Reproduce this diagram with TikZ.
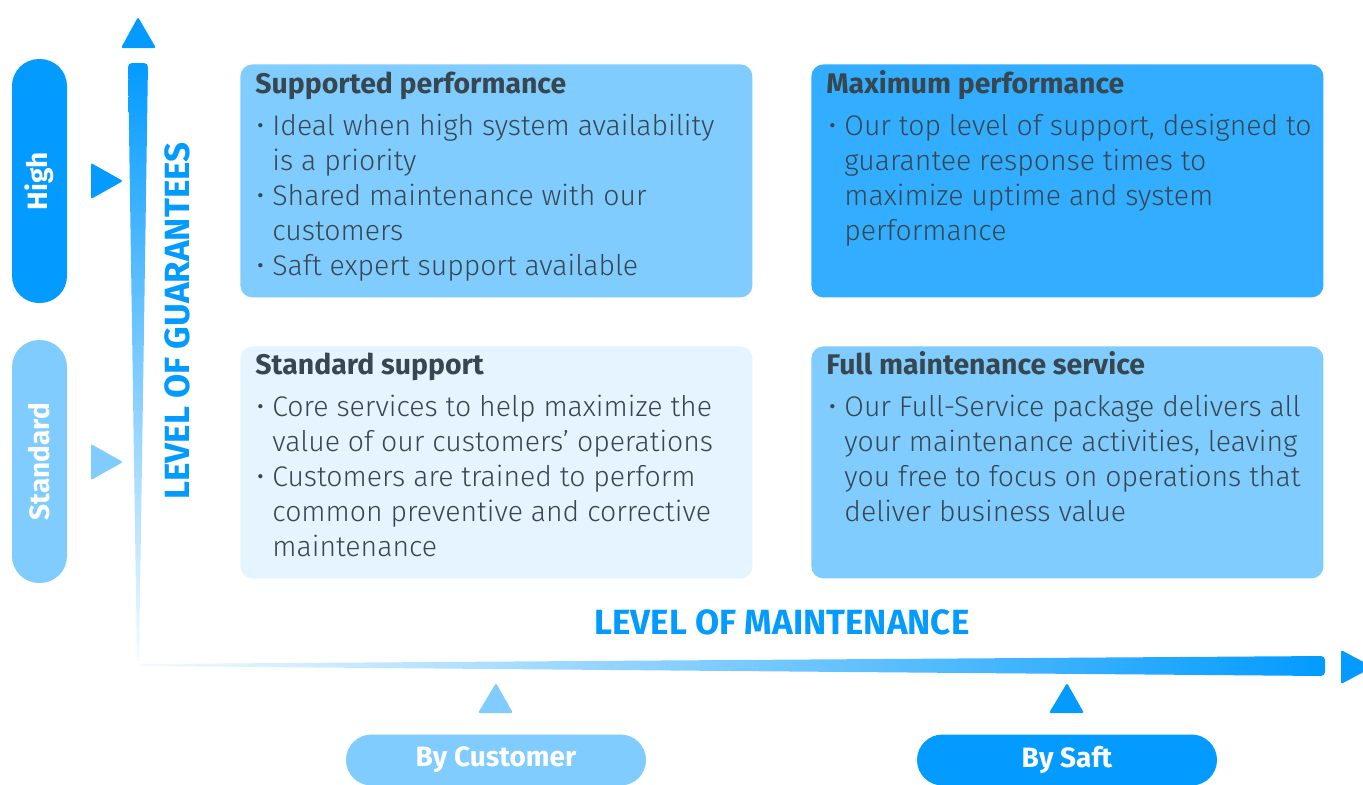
\documentclass[tikz,border=0pt]{standalone}
\usepackage{fontspec}
\setmainfont{Fira Sans}
\newfontfamily\lightfont{Fira Sans Light}
\usetikzlibrary{positioning}
\definecolor{axis}{HTML}{039BFF}
\definecolor{soft}{HTML}{80CCFF}
\definecolor{deep}{HTML}{33ADFF}
\definecolor{pale}{HTML}{E5F4FF}
\definecolor{ink}{HTML}{37474F}
\newcommand{\bul}{\makebox[8pt][l]{\textbullet}}
\newcommand{\ind}{\hspace*{8pt}}
\tikzset{
  card/.style={rounded corners=6pt, inner sep=0pt, anchor=north west},
  pill/.style={rounded corners=13.5pt, inner sep=0pt, text=white, font=\bfseries\fontsize{14}{16}\selectfont},
  tri/.style={rounded corners=1pt},
  head/.style={text=ink, font=\bfseries\fontsize{14.2}{16}\selectfont, anchor=base west, inner sep=0pt},
  body/.style={text=ink, font=\lightfont\fontsize{14.2}{17.5}\selectfont, align=left, anchor=north west, inner sep=0pt},
  axlab/.style={text=axis, font=\bfseries\fontsize{17.5}{19}\selectfont, inner sep=0pt},
}
\begin{document}
\begin{tikzpicture}[x=0.5pt,y=-0.5pt]
\useasboundingbox (0,0) rectangle (1363,784);

% axes
\fill[axis, tri] (121,48) -- (138,17) -- (156,48) -- cycle;
\shade[top color=axis, middle color=axis!80, bottom color=axis!5, rounded corners=2pt]
  (128,63) -- (148,63) -- (139,660) -- (137,660) -- cycle;
\shade[left color=axis!5, middle color=axis!55, right color=axis, rounded corners=2pt]
  (140,664) -- (1325,656) -- (1325,676) -- (140,666) -- cycle;
\fill[axis, tri] (1341,650) -- (1373,667) -- (1341,684) -- cycle;

% level markers
\fill[axis, tri] (91,163) -- (123,181) -- (91,199) -- cycle;
\fill[soft, tri] (91,444) -- (123,462) -- (91,480) -- cycle;
\fill[soft, tri] (478,713) -- (496,683) -- (513,713) -- cycle;
\fill[axis, tri] (1049,713) -- (1067,683) -- (1084,713) -- cycle;

% pills
\node[pill, fill=axis, minimum width=27.5pt, minimum height=122pt] (high) at (39.5,181) {};
\node[pill, rotate=90] at (high) {High};
\node[pill, fill=soft, minimum width=27.5pt, minimum height=121.5pt] (std) at (39.5,461.5) {};
\node[pill, rotate=90] at (std) {Standard};
\node[pill, fill=soft, rounded corners=12.75pt, minimum width=150pt, minimum height=25.5pt] (bycust) at (496,760) {By Customer};
\node[pill, fill=axis, rounded corners=12.75pt, minimum width=150pt, minimum height=25.5pt] (bysaft) at (1067,760) {By Saft};

% axis labels
\node[axlab, rotate=90] (guar) at (177,321) {LEVEL OF GUARANTEES};
\node[axlab] (maint) at (782,622) {LEVEL OF MAINTENANCE};

% cards
\node[card, fill=soft, minimum width=256pt, minimum height=116.5pt] (supp) at (240,64) {};
\node[card, fill=deep, minimum width=256pt, minimum height=116.5pt] (maxp) at (811,64) {};
\node[card, fill=pale, minimum width=256pt, minimum height=116pt] (stds) at (240,346) {};
\node[card, fill=soft, minimum width=256pt, minimum height=116pt] (full) at (811,346) {};

\node[head] (supphead) at (255,93) {Supported performance};
\node[body] (suppbody) at (256,114) {\bul Ideal when high system availability\\\ind is a priority\\\bul Shared maintenance with our\\\ind customers\\\bul Saft expert support available};

\node[head] (maxphead) at (826,93) {Maximum performance};
\node[body] (maxpbody) at (828,114) {\bul Our top level of support, designed to\\\ind guarantee response times to\\\ind maximize uptime and system\\\ind performance};

\node[head] (stdshead) at (255,374) {Standard support};
\node[body] (stdsbody) at (256,395) {\bul Core services to help maximize the\\\ind value of our customers’ operations\\\bul Customers are trained to perform\\\ind common preventive and corrective\\\ind maintenance};

\node[head] (fullhead) at (826,374) {Full maintenance service};
\node[body] (fullbody) at (828,395) {\bul Our Full-Service package delivers all\\\ind your maintenance activities, leaving\\\ind you free to focus on operations that\\\ind deliver business value};
\end{tikzpicture}
\end{document}
